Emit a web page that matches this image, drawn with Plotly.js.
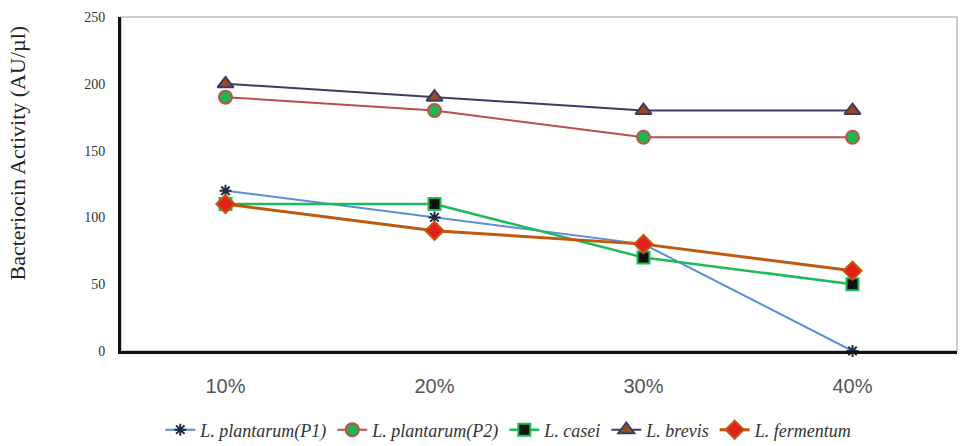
<!DOCTYPE html>
<html>
<head>
<meta charset="utf-8">
<script src="https://cdn.plot.ly/plotly-3.0.1.min.js"></script>
<style>
  body { margin: 0; background: #fff; }
  #chart { width: 960px; height: 446px; }
</style>
</head>
<body>
<div id="chart"></div>
<script>
// concentrations on the x axis
const concentrations = ['10%', '20%', '30%', '40%']

// bacteriocin activity (AU/µl) per strain
const plantarumP1 = [120, 100, 80, 0]
const plantarumP2 = [190, 180, 160, 160]
const casei = [110, 110, 70, 50]
const brevis = [200, 190, 180, 180]
const fermentum = [110, 90, 80, 60]

const yTicks = [0, 50, 100, 150, 200, 250]

const makeTrace = (name, y, lineColor, lineWidth, symbol, fill, border, size) => ({
  type: 'scatter',
  mode: 'lines+markers',
  name: name,
  x: concentrations,
  y: y,
  cliponaxis: false,
  line: { color: lineColor, width: lineWidth },
  marker: { symbol: symbol, size: size, color: fill, line: { color: border, width: 2 } }
})

const traces = [
  makeTrace('<i>L. plantarum(P1)</i>', plantarumP1, '#5b8ed6', 2, 'asterisk-open', '#1f2a44', '#2a3450', 10),
  makeTrace('<i>L. plantarum(P2)</i>', plantarumP2, '#b8504c', 2, 'circle', '#1fb54f', '#c0504d', 13),
  makeTrace('<i>L. casei</i>', casei, '#1fba5a', 2.5, 'square', '#111111', '#1fba5a', 12),
  makeTrace('<i>L. brevis</i>', brevis, '#3c3c66', 2, 'triangle-up', '#9a4a1c', '#3c3c66', 14),
  makeTrace('<i>L. fermentum</i>', fermentum, '#c0590f', 3, 'diamond', '#e0201a', '#c0590f', 14)
]

Plotly.newPlot('chart', traces, {
  width: 960,
  height: 446,
  margin: { l: 121, r: 3, t: 17, b: 95 },
  paper_bgcolor: '#fff',
  plot_bgcolor: '#fff',
  showlegend: true,
  legend: {
    orientation: 'h',
    xref: 'container',
    yref: 'container',
    x: 0.53,
    xanchor: 'center',
    y: 0.036,
    yanchor: 'middle',
    font: { family: 'Liberation Serif', size: 18, color: '#333' },
    itemwidth: 30
  },
  xaxis: {
    type: 'category',
    range: [-0.5, 3.5],
    showgrid: false,
    zeroline: false,
    showline: true,
    linecolor: '#111',
    linewidth: 3,
    ticks: '',
    ticklabelstandoff: 15,
    tickfont: { family: 'Liberation Sans', size: 20, color: '#555' }
  },
  yaxis: {
    range: [0, 250],
    tickvals: yTicks,
    showgrid: false,
    zeroline: false,
    showline: true,
    linecolor: '#111',
    linewidth: 3,
    ticks: '',
    ticklabelstandoff: 10,
    tickfont: { family: 'Liberation Serif', size: 14, color: '#333' }
  },
  annotations: [{
    text: 'Bacteriocin Activity (AU/µl)',
    xref: 'paper', yref: 'paper',
    x: -0.125, y: 0.5, xanchor: 'center', yanchor: 'middle',
    yshift: 31,
    textangle: -90,
    showarrow: false,
    font: { family: 'Liberation Serif', size: 22, color: '#222' }
  }],
  shapes: [{
    type: 'rect', xref: 'paper', yref: 'paper', x0: 0, x1: 1, y0: 0, y1: 1,
    line: { color: '#bdbdbd', width: 1.5 }, layer: 'below'
  }]
}, { displayModeBar: false })
</script>
</body>
</html>
